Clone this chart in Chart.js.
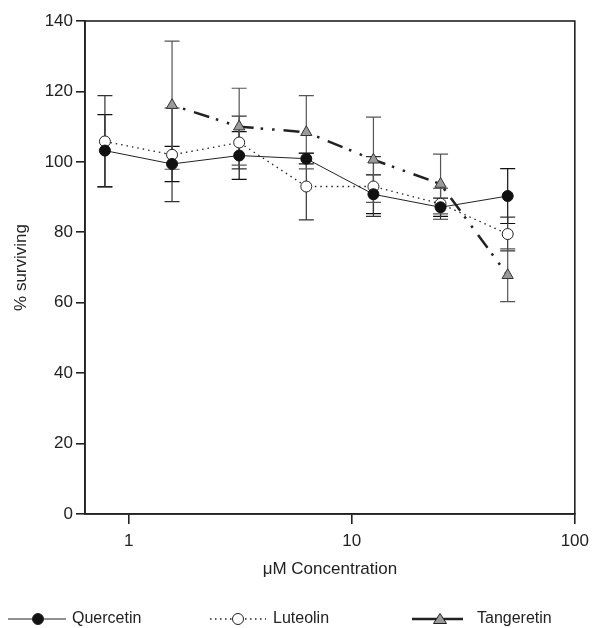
<!DOCTYPE html>
<html>
<head>
<meta charset="utf-8">
<script src="https://cdn.jsdelivr.net/npm/chart.js@4.4.1/dist/chart.umd.min.js"></script>
<style>
  body { margin: 0; background: #fff; }
  #wrap { width: 596px; height: 628px; }
</style>
</head>
<body>
<div id="wrap"><canvas id="survivalChart"></canvas></div>
<script>
// concentrations in uM (log scale)
const concentrations = [0.78125, 1.5625, 3.125, 6.25, 12.5, 25, 50];

const quercetin    = [103.2, 99.4, 101.8, 100.9, 90.8, 87.1, 90.3];
const quercetinErr = [10.2, 5.0, 6.8, 1.5, 5.5, 2.6, 7.8];

const luteolin    = [105.8, 102.0, 105.5, 93.0, 93.0, 88.1, 79.5];
const luteolinErr = [13.0, 13.3, 7.5, 9.5, 8.5, 4.4, 4.8];

const tangeretin    = [null, 116.1, 110.0, 108.4, 100.6, 93.7, 67.8];
const tangeretinErr = [null, 18.2, 10.9, 10.4, 12.1, 8.5, 7.5];

const xTicks = [1, 10, 100];
const yTicks = [0, 20, 40, 60, 80, 100, 120, 140];

const ink = '#222';
Chart.defaults.font.family = "'Liberation Sans', Arial, sans-serif";
Chart.defaults.font.size = 17;
Chart.defaults.color = ink;

const toPoints = (vals) => concentrations.map((c, i) => ({ x: c, y: vals[i] })).filter(p => p.y !== null);

const errorBars = {
  id: 'errorBars',
  beforeDatasetsDraw(chart) {
    const { ctx, scales: { x, y } } = chart;
    chart.data.datasets.forEach((ds) => {
      const errs = ds.errors.filter(v => v !== null);
      ds.data.forEach((p, i) => {
        const e = errs[i];
        if (e == null) return;
        const px = x.getPixelForValue(p.x);
        const top = y.getPixelForValue(p.y + e);
        const bot = y.getPixelForValue(p.y - e);
        ctx.save();
        ctx.strokeStyle = ds.errColor;
        ctx.lineWidth = 1.2;
        ctx.beginPath();
        ctx.moveTo(px, top); ctx.lineTo(px, bot);
        ctx.moveTo(px - 7.5, top); ctx.lineTo(px + 7.5, top);
        ctx.moveTo(px - 7.5, bot); ctx.lineTo(px + 7.5, bot);
        ctx.stroke();
        ctx.restore();
      });
    });
  },
  afterDraw(chart) {
    const { ctx, chartArea: a } = chart;
    // frame around the plot
    ctx.save();
    ctx.strokeStyle = ink;
    ctx.lineWidth = 1.6;
    ctx.strokeRect(a.left, a.top, a.right - a.left, a.bottom - a.top);
    ctx.restore();

    // legend
    const ly = 619;
    const items = [
      { x1: 8, x2: 66, mx: 38, tx: 72 },
      { x1: 210, x2: 266, mx: 238, tx: 273 },
      { x1: 412, x2: 463, mx: 440, tx: 477 }
    ];
    chart.data.datasets.forEach((ds, i) => {
      const it = items[i];
      ctx.save();
      ctx.strokeStyle = ink;
      ctx.lineWidth = ds.borderWidth;
      ctx.setLineDash(i === 1 ? [1.5, 3.5] : []);
      ctx.beginPath();
      ctx.moveTo(it.x1, ly); ctx.lineTo(it.x2, ly);
      ctx.stroke();
      ctx.setLineDash([]);
      ctx.lineWidth = 1;
      ctx.fillStyle = ds.pointBackgroundColor;
      ctx.beginPath();
      if (ds.pointStyle === 'triangle') {
        ctx.moveTo(it.mx, ly - 5.5);
        ctx.lineTo(it.mx + 6.5, ly + 4.5);
        ctx.lineTo(it.mx - 6.5, ly + 4.5);
        ctx.closePath();
      } else {
        ctx.arc(it.mx, ly, 5.5, 0, Math.PI * 2);
      }
      ctx.fill();
      ctx.stroke();
      ctx.fillStyle = ink;
      ctx.font = "16px 'Liberation Sans', Arial, sans-serif";
      ctx.textBaseline = 'middle';
      ctx.fillText(ds.label, it.tx, ly);
      ctx.restore();
    });
  }
};

new Chart(document.getElementById('survivalChart'), {
  type: 'line',
  data: {
    datasets: [
      {
        label: 'Quercetin',
        data: toPoints(quercetin),
        errors: quercetinErr,
        errColor: '#111',
        borderColor: ink,
        borderWidth: 1,
        pointRadius: 5.5,
        pointBackgroundColor: '#111',
        pointBorderColor: '#111',
        pointBorderWidth: 1
      },
      {
        label: 'Luteolin',
        data: toPoints(luteolin),
        errors: luteolinErr,
        errColor: '#333',
        borderColor: ink,
        borderWidth: 1.3,
        borderDash: [1.5, 4],
        pointRadius: 5.5,
        pointBackgroundColor: '#fff',
        pointBorderColor: ink,
        pointBorderWidth: 1
      },
      {
        label: 'Tangeretin',
        data: toPoints(tangeretin),
        errors: tangeretinErr,
        errColor: '#555',
        borderColor: ink,
        borderWidth: 2.5,
        borderDash: [2.5, 9, 2.5, 9, 16, 7],
        pointStyle: 'triangle',
        pointRadius: 6.5,
        pointBackgroundColor: '#9a9a9a',
        pointBorderColor: '#333',
        pointBorderWidth: 1
      }
    ]
  },
  options: {
    responsive: true,
    maintainAspectRatio: false,
    animation: false,
    layout: { padding: { left: 7, right: 18, top: 21, bottom: 44 } },
    plugins: { legend: { display: false }, tooltip: { enabled: false } },
    scales: {
      x: {
        type: 'logarithmic',
        bounds: 'data',
        min: 0.636,
        max: 100,
        afterBuildTicks: (s) => { s.ticks = xTicks.map(v => ({ value: v })); },
        afterFit: (s) => { s.height = 70; },
        ticks: { padding: 7, callback: (v) => String(v), autoSkip: false, maxRotation: 0 },
        grid: { drawOnChartArea: false, tickLength: 10, color: ink, lineWidth: 1.6 },
        border: { color: ink, width: 1.6 },
        title: { display: true, text: 'μM Concentration', padding: { top: 0 } }
      },
      y: {
        min: 0,
        max: 140,
        afterBuildTicks: (s) => { s.ticks = yTicks.map(v => ({ value: v })); },
        afterFit: (s) => { s.width = 78; },
        ticks: { padding: 3 },
        grid: { drawOnChartArea: false, tickLength: 9, color: ink, lineWidth: 1.6 },
        border: { color: ink, width: 1.6 },
        title: { display: true, text: '% surviving', padding: { bottom: 8 } }
      }
    }
  },
  plugins: [errorBars]
});
</script>
</body>
</html>
